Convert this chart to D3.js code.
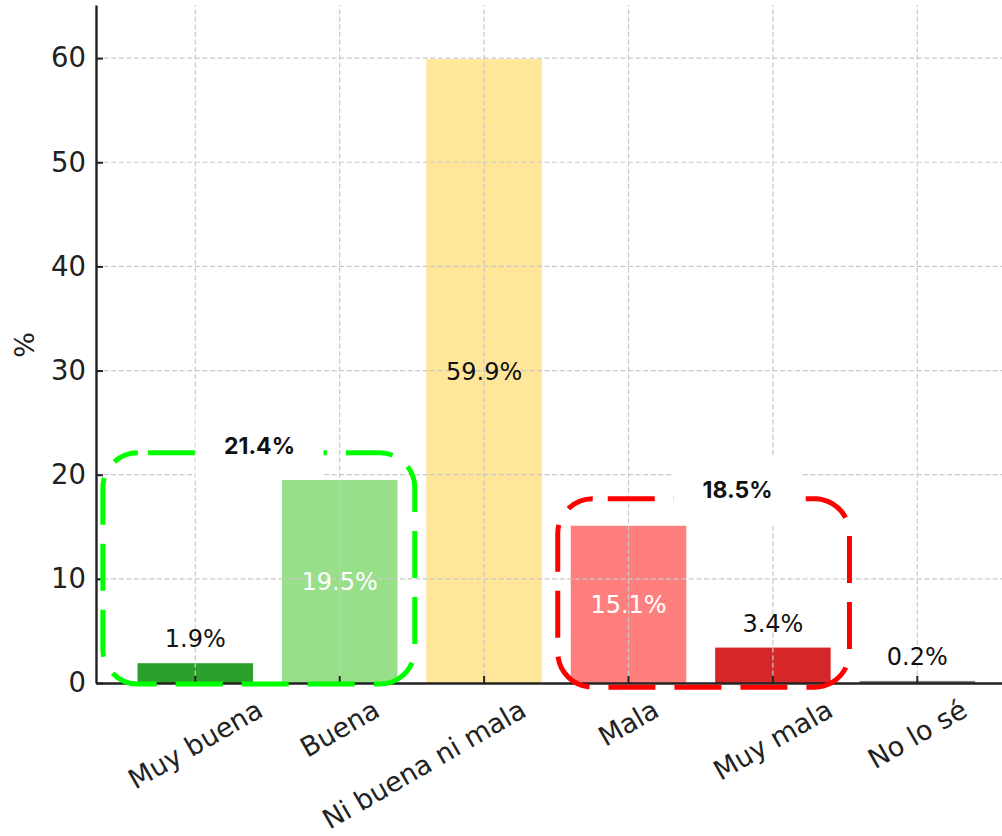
<!DOCTYPE html>
<html>
<head>
<meta charset="utf-8">
<script src="https://cdn.jsdelivr.net/npm/d3@7/dist/d3.min.js"></script>
<style>
  body { margin: 0; background: #fff; }
  #chart { width: 1002px; height: 836px; }
</style>
</head>
<body>
<div id="chart"></div>
<script>
// data
var categories = ["Muy buena", "Buena", "Ni buena ni mala", "Mala", "Muy mala", "No lo sé"];
var values = [1.9, 19.5, 59.9, 15.1, 3.4, 0.2];
var yTicks = [0, 10, 20, 30, 40, 50, 60];
var groupNames = ["buena", "mala"];
var groupTotals = [21.4, 18.5];
var barColors = ["#2ca02c", "#98df8a", "#ffe699", "#ff7f7f", "#d62728", "#7f7f7f"];

var barData = categories.map(function (c, i) { return { cat: c, v: values[i] }; });

var width = 1002, height = 836;
var axisLeftX = 96, axisBottomY = 683, plotTop = 5;

var svg = d3.select("#chart").append("svg")
  .attr("width", width)
  .attr("height", height)
  .style("background", "#fff");

var x = d3.scaleBand()
  .domain(categories)
  .range([axisLeftX, 1016.6])
  .paddingInner(0.2)
  .paddingOuter(0.2875);

var y = d3.scaleLinear()
  .domain([0, 65.1])
  .range([axisBottomY, plotTop]);

var color = d3.scaleOrdinal().domain(categories).range(barColors);

// position in "category index" units (0 = first bar centre)
function xIdx(v) {
  return x(categories[0]) + x.bandwidth() / 2 + v * x.step();
}

// bars
svg.append("g").attr("id", "bars")
  .selectAll("rect")
  .data(barData)
  .join("rect")
  .attr("x", d => x(d.cat))
  .attr("y", d => y(d.v))
  .attr("width", x.bandwidth())
  .attr("height", d => y(0) - y(d.v))
  .attr("fill", d => color(d.cat));

// grid (drawn over bars like the original)
var grid = svg.append("g").attr("id", "grid")
  .attr("stroke", "#c9c9c9")
  .attr("stroke-width", 1.2)
  .attr("stroke-dasharray", "5,2.6");
grid.selectAll(".hgrid")
  .data(yTicks.filter(t => t > 0))
  .join("line")
  .attr("class", "hgrid")
  .attr("x1", axisLeftX).attr("x2", 1020)
  .attr("y1", d => y(d)).attr("y2", d => y(d));
grid.selectAll(".vgrid")
  .data(categories)
  .join("line")
  .attr("class", "vgrid")
  .attr("x1", d => x(d) + x.bandwidth() / 2).attr("x2", d => x(d) + x.bandwidth() / 2)
  .attr("y1", axisBottomY).attr("y2", plotTop);

// y axis
var yAxis = d3.axisLeft(y).tickValues(yTicks).tickSizeInner(-7).tickSizeOuter(0).tickPadding(10);
var gy = svg.append("g").attr("id", "y-axis")
  .attr("transform", `translate(${axisLeftX},0)`)
  .call(yAxis);
gy.select(".domain").attr("stroke", "#222").attr("stroke-width", 2.4);
gy.selectAll(".tick line").attr("stroke", "#222").attr("stroke-width", 2);
gy.selectAll(".tick text")
  .attr("fill", "#222")
  .attr("font-family", "DejaVu Sans")
  .attr("font-size", 27.5);

// x axis
var xAxis = d3.axisBottom(x).tickSizeInner(-7).tickSizeOuter(0);
var gx = svg.append("g").attr("id", "x-axis")
  .attr("transform", `translate(0,${axisBottomY})`)
  .call(xAxis);
gx.select(".domain").attr("stroke", "#222").attr("stroke-width", 2.4);
gx.selectAll(".tick line").attr("stroke", "#222").attr("stroke-width", 2);
var xfs = 27, rot = 30, ang = rot * Math.PI / 180;
gx.selectAll(".tick text")
  .attr("fill", "#222")
  .attr("font-family", "DejaVu Sans")
  .attr("font-size", xfs)
  .attr("text-anchor", "middle")
  .attr("y", 0)
  .attr("dy", "0.35em")
  .each(function (d) {
    var L = this.getComputedTextLength();
    var halfH = (L * Math.sin(ang) + xfs * 0.85 * Math.cos(ang)) / 2;
    var shift = d === "Ni buena ni mala" ? -60 : 0; // original places this one left of its tick
    d3.select(this).attr("transform", `translate(${shift},${14 + halfH}) rotate(${-rot})`);
  });

// y label
svg.append("text")
  .attr("transform", "translate(25,345) rotate(-90)")
  .attr("text-anchor", "middle")
  .attr("dy", "0.35em")
  .attr("font-family", "DejaVu Sans")
  .attr("font-size", 27)
  .attr("fill", "#222")
  .text("%");

// value labels
svg.append("g").attr("id", "value-labels")
  .selectAll("text")
  .data(barData)
  .join("text")
  .attr("x", d => x(d.cat) + x.bandwidth() / 2)
  .attr("y", d => d.v > 10 ? (y(d.v) + y(0)) / 2 : y(d.v) - 16)
  .attr("dy", d => d.v > 10 ? "0.36em" : "0")
  .attr("text-anchor", "middle")
  .attr("font-family", "DejaVu Sans")
  .attr("font-size", 24)
  .attr("fill", d => (d.v > 10 && d3.hsl(color(d.cat)).l < 0.76) ? "#fff" : "#111")
  .text(d => d.v.toFixed(1) + "%");

// dashed rounded boxes around grouped answers
var boxLayout = [
  { x0: -0.64, x1: 1.52, y0: -0.1, y1: 22.1, lx: 0.445, ly: 22.8, stroke: "#00ff00", offset: 56 },
  { x0: 2.51, x1: 4.53, y0: -0.4, y1: 17.7, lx: 3.755, ly: 18.6, stroke: "#ff0000", offset: 51 }
];
var ann = svg.append("g").attr("id", "groups");
groupNames.forEach(function (g, i) {
  var b = boxLayout[i];
  ann.append("rect")
    .attr("x", xIdx(b.x0))
    .attr("y", y(b.y1))
    .attr("width", xIdx(b.x1) - xIdx(b.x0))
    .attr("height", y(b.y0) - y(b.y1))
    .attr("rx", 35).attr("ry", 35)
    .attr("fill", "none")
    .attr("stroke", b.stroke)
    .attr("stroke-width", 5)
    .attr("stroke-dasharray", "47,19")
    .attr("stroke-dashoffset", b.offset);
  // white backing behind the total
  ann.append("rect")
    .attr("x", xIdx(b.lx) - 64)
    .attr("y", y(b.ly) - 34)
    .attr("width", 128)
    .attr("height", 68)
    .attr("fill", "#fff");
  ann.append("text")
    .attr("x", xIdx(b.lx))
    .attr("y", y(b.ly))
    .attr("dy", "0.36em")
    .attr("text-anchor", "middle")
    .attr("font-family", "Inter, DejaVu Sans")
    .attr("font-weight", 700)
    .attr("font-size", 23)
    .attr("fill", "#111")
    .text(groupTotals[i].toFixed(1) + "%");
});
</script>
</body>
</html>
